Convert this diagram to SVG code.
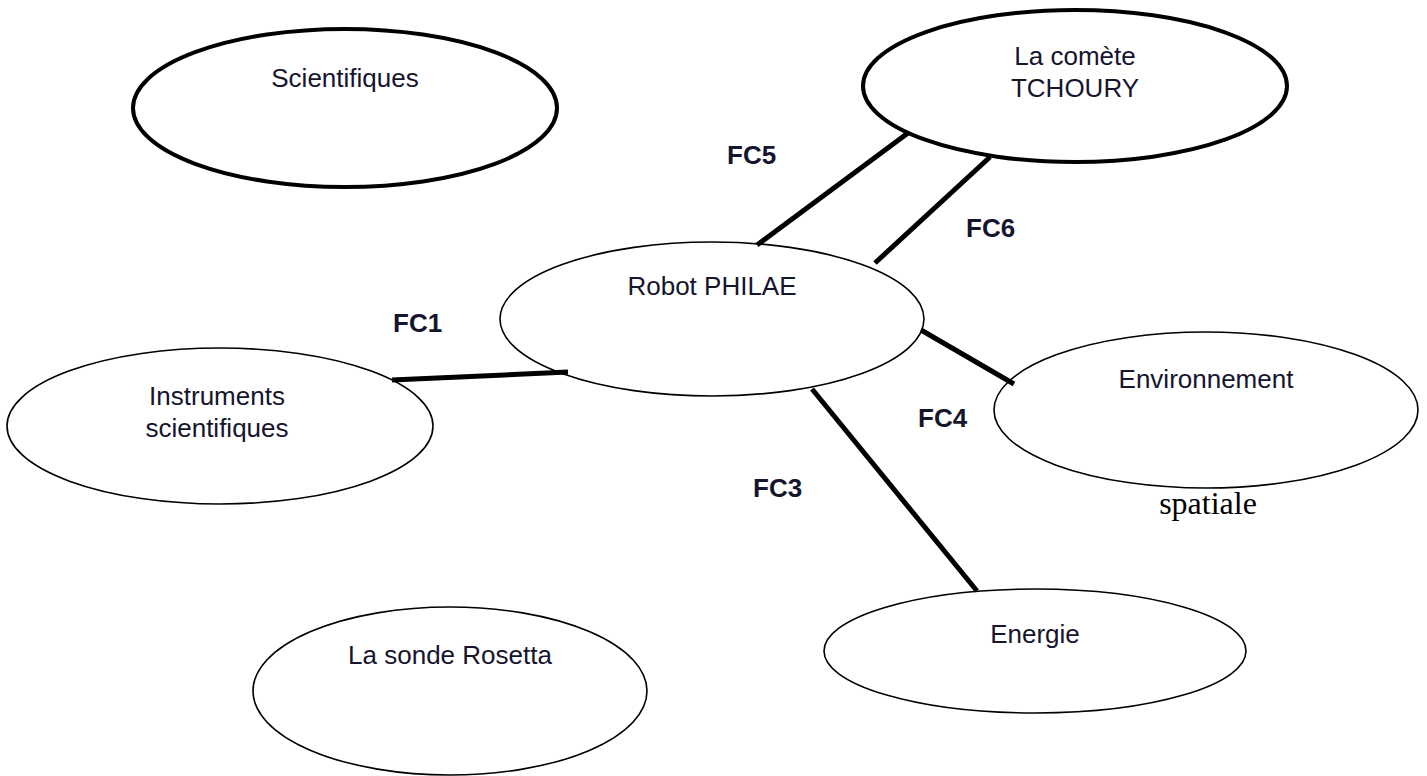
<svg xmlns="http://www.w3.org/2000/svg" width="1427" height="776" viewBox="0 0 1427 776">
<style>
.bg{fill:#fff}
.thick{fill:#fff;stroke:#000;stroke-width:4}
.thin{fill:#fff;stroke:#000;stroke-width:1.6}
.lbl{font-family:"Liberation Sans",Arial,sans-serif;font-size:26px;fill:#15152e;text-anchor:middle}
.fc{font-family:"Liberation Sans",Arial,sans-serif;font-size:26px;font-weight:bold;fill:#15152e}
.ser{font-family:"Liberation Serif","Times New Roman",serif;font-size:32px;fill:#000;text-anchor:middle}
.conn line{stroke:#000;stroke-width:5;stroke-linecap:butt}
</style>
<rect class="bg" x="0" y="0" width="1427" height="776"/>
<g id="n-scientifiques">
<ellipse class="thick" cx="345" cy="108" rx="212" ry="79"/>
<text class="lbl" x="345" y="87">Scientifiques</text>
</g>
<g id="n-comete">
<ellipse class="thick" cx="1075" cy="86" rx="212" ry="76"/>
<text class="lbl" x="1075" y="65">La comète</text>
<text class="lbl" x="1075" y="97">TCHOURY</text>
</g>
<g id="n-robot">
<ellipse class="thin" cx="712" cy="319" rx="212" ry="77"/>
<text class="lbl" x="712" y="295">Robot PHILAE</text>
</g>
<g id="n-instruments">
<ellipse class="thin" cx="220" cy="426" rx="213" ry="78"/>
<text class="lbl" x="217" y="405">Instruments</text>
<text class="lbl" x="217" y="437">scientifiques</text>
</g>
<g id="n-environnement">
<ellipse class="thin" cx="1206" cy="410" rx="212" ry="78"/>
<text class="lbl" x="1206" y="388">Environnement</text>
<text class="ser" x="1208" y="514">spatiale</text>
</g>
<g id="n-rosetta">
<ellipse class="thin" cx="450" cy="691" rx="197" ry="84"/>
<text class="lbl" x="450" y="664">La sonde Rosetta</text>
</g>
<g id="n-energie">
<ellipse class="thin" cx="1035" cy="651" rx="211" ry="62"/>
<text class="lbl" x="1035" y="643">Energie</text>
</g>
<g id="connectors" class="conn">
<line x1="757" y1="245" x2="908" y2="133"/>
<line x1="875" y1="263" x2="990" y2="157"/>
<line x1="392" y1="380" x2="568" y2="372"/>
<line x1="921" y1="330" x2="1014" y2="384"/>
<line x1="812" y1="389" x2="977" y2="591"/>
</g>
<g id="labels">
<text class="fc" x="727" y="164">FC5</text>
<text class="fc" x="966" y="237">FC6</text>
<text class="fc" x="393" y="332">FC1</text>
<text class="fc" x="918" y="427">FC4</text>
<text class="fc" x="753" y="497">FC3</text>
</g>
</svg>
